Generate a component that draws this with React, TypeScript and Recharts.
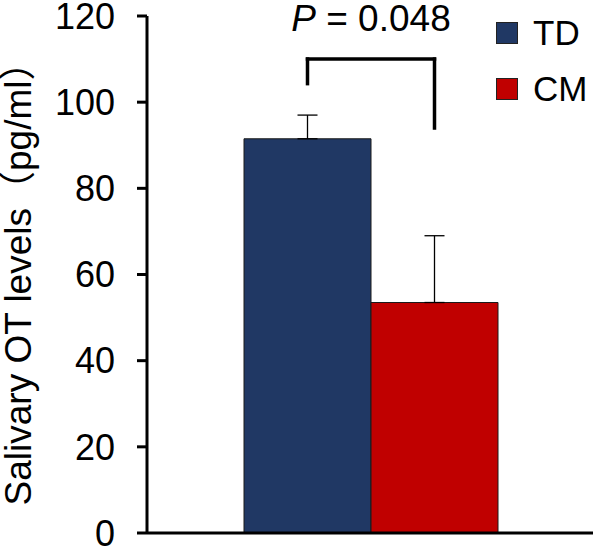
import { BarChart, Bar, Cell, XAxis, YAxis, ErrorBar, ReferenceLine, Legend } from 'recharts';

const groups = ['TD', 'CM'];
const means = [91.5, 53.5];
const sdUpper = [5.5, 15.5];
const colors = ['#203864', '#C00000'];
const yTicks = [0, 20, 40, 60, 80, 100, 120];

// significance bracket (value units)
const bracketTop = 110;
const bracketLegs = [104.3, 94];
const pText = '= 0.048';

const data = groups.map((g, i) => ({ group: g, value: means[i], err: [0, sdUpper[i]] }));

const FONT = 'Arial, "Liberation Sans", "Noto Sans CJK JP", sans-serif';

function LegendBox() {
  return (
    <div style={{ fontFamily: FONT }}>
      {groups.map((g, i) => (
        <div key={g} style={{ display: 'flex', alignItems: 'center', height: 56 }}>
          <span style={{ width: 20, height: 20, background: colors[i], border: '1px solid #222', marginRight: 15 }} />
          <span style={{ fontSize: 35, color: '#000' }}>{g}</span>
        </div>
      ))}
    </div>
  );
}

function PLabel(props: any) {
  const { viewBox } = props;
  const cx = viewBox.x + viewBox.width / 2;
  return (
    <text x={cx} y={viewBox.y - 28} textAnchor="middle" fontSize={37} fontFamily={FONT} fill="#000">
      <tspan fontStyle="italic">P</tspan>
      <tspan> {pText}</tspan>
    </text>
  );
}

export default function App() {
  return (
    <div style={{ position: 'absolute', left: 0, top: 0, background: '#fff' }}>
      <BarChart width={595} height={548} data={data} margin={{ top: 16, right: 2, left: 0, bottom: 0 }} barCategoryGap={0}>
        <XAxis dataKey="group" height={15} tick={false} tickLine={false} padding={{ left: 97, right: 95 }}
          axisLine={{ stroke: '#000', strokeWidth: 3 }} />
        <YAxis domain={[0, 120]} ticks={yTicks} interval={0} width={147} tickSize={10} tickMargin={22}
          axisLine={{ stroke: '#000', strokeWidth: 3 }} tickLine={{ stroke: '#000', strokeWidth: 3 }}
          tick={{ fill: '#000', fontSize: 36, fontFamily: FONT }}
          label={{ value: 'Salivary OT levels（pg/ml）', angle: -90, position: 'insideLeft', offset: 18,
            style: { textAnchor: 'middle', fontSize: 37, fontFamily: FONT, fill: '#000' } }} />
        <Legend layout="horizontal" verticalAlign="middle" align="center" content={<LegendBox />}
          wrapperStyle={{ top: 5, left: 496, width: 'auto' }} />
        <Bar dataKey="value" isAnimationActive={false} stroke="#1a1a1a" strokeWidth={1}>
          {data.map((d, i) => (
            <Cell key={d.group} fill={colors[i]} />
          ))}
          <ErrorBar dataKey="err" width={10} stroke="#000" strokeWidth={1.3} />
        </Bar>
        <ReferenceLine segment={[{ x: groups[0], y: bracketTop }, { x: groups[1], y: bracketTop }]}
          stroke="#000" strokeWidth={3.5} strokeLinecap="square" ifOverflow="visible" label={<PLabel />} />
        <ReferenceLine segment={[{ x: groups[0], y: bracketTop }, { x: groups[0], y: bracketLegs[0] }]}
          stroke="#000" strokeWidth={3.5} strokeLinecap="square" ifOverflow="visible" />
        <ReferenceLine segment={[{ x: groups[1], y: bracketTop }, { x: groups[1], y: bracketLegs[1] }]}
          stroke="#000" strokeWidth={3.5} strokeLinecap="square" ifOverflow="visible" />
      </BarChart>
    </div>
  );
}
